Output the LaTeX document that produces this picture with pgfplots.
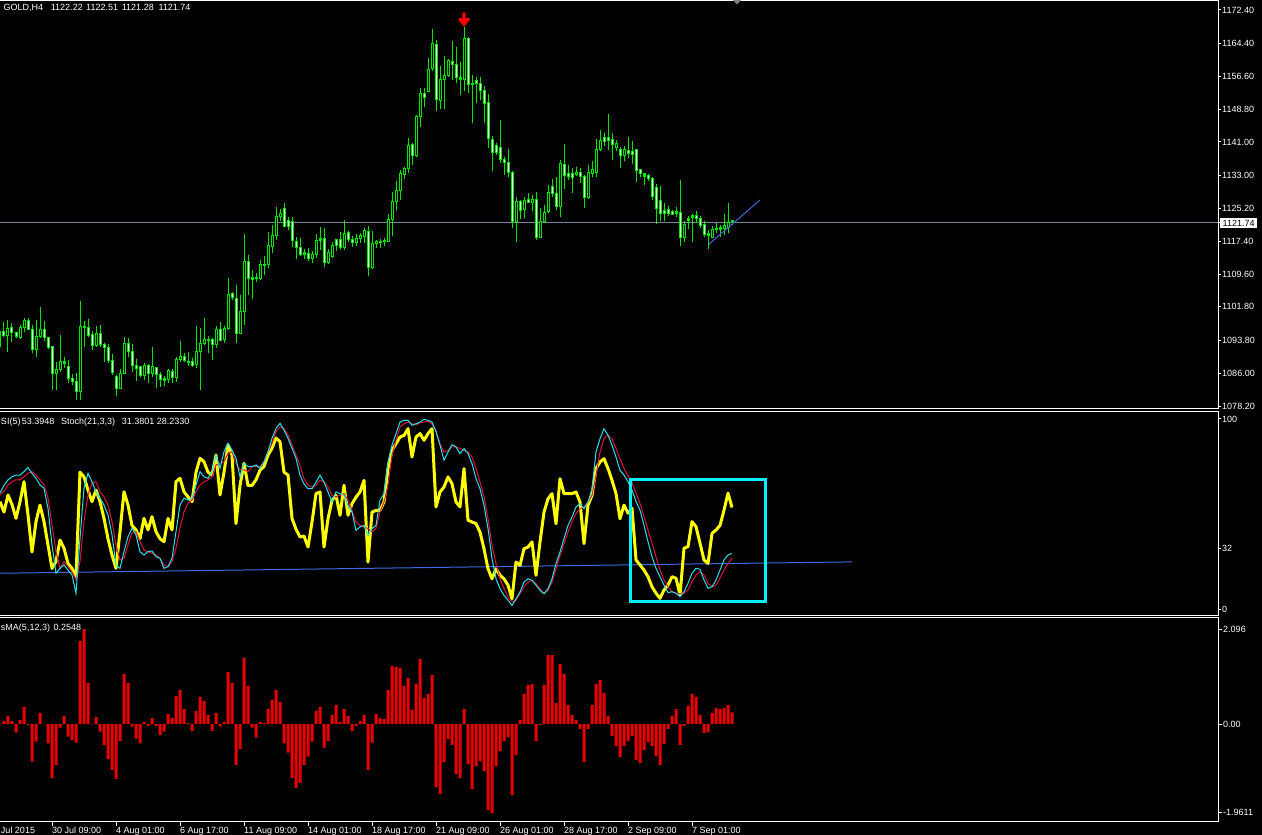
\documentclass[border=0pt]{standalone}
\usepackage{fontspec}
\setmainfont{Liberation Sans}
\usepackage{pgfplots}
\usepackage{pgfplotstable}
\pgfplotsset{compat=1.18}

\definecolor{mtlime}{RGB}{0,230,0}
\definecolor{mtred}{RGB}{235,0,0}
\definecolor{mtyellow}{RGB}{255,255,0}
\definecolor{mtcyan}{RGB}{40,225,235}
\definecolor{mtcrimson}{RGB}{220,20,60}
\definecolor{mtblue}{RGB}{65,105,225}
\definecolor{mtslate}{RGB}{119,136,153}
\definecolor{mtbox}{RGB}{0,240,255}

\pgfdeclareplotmark{fractaldown}{%
  \pgfpathmoveto{\pgfqpoint{-1.7pt}{7pt}}%
  \pgfpathlineto{\pgfqpoint{1.7pt}{7pt}}%
  \pgfpathlineto{\pgfqpoint{1.7pt}{1.5pt}}%
  \pgfpathlineto{\pgfqpoint{5.5pt}{1.5pt}}%
  \pgfpathlineto{\pgfqpoint{5.5pt}{-0.5pt}}%
  \pgfpathlineto{\pgfqpoint{0pt}{-7pt}}%
  \pgfpathlineto{\pgfqpoint{-5.5pt}{-0.5pt}}%
  \pgfpathlineto{\pgfqpoint{-5.5pt}{1.5pt}}%
  \pgfpathlineto{\pgfqpoint{-1.7pt}{1.5pt}}%
  \pgfpathclose
  \pgfusepathqfill
}

\pgfplotstableread{
i o h l c
0 1092.31 1097.07 1091.92 1095.88
1 1095.96 1098.26 1094.69 1095.01
2 1094.93 1098.66 1091.12 1096.68
3 1096.91 1097.86 1093.50 1095.64
4 1095.72 1095.88 1094.30 1094.69
5 1094.45 1097.47 1094.14 1096.91
6 1096.91 1099.05 1095.88 1098.58
7 1098.58 1099.05 1096.28 1096.44
8 1096.44 1097.47 1090.73 1091.68
9 1091.68 1098.66 1089.93 1094.77
10 1094.69 1101.83 1094.30 1096.44
11 1096.44 1098.42 1093.74 1094.45
12 1094.53 1094.69 1091.84 1092.08
13 1092.39 1092.47 1082.01 1085.97
14 1085.97 1088.75 1082.01 1086.92
15 1086.92 1095.09 1086.37 1088.83
16 1088.35 1089.93 1087.16 1088.75
17 1087.64 1089.14 1083.75 1084.70
18 1084.78 1085.81 1083.20 1083.99
19 1084.07 1086.13 1079.63 1081.61
20 1081.61 1103.18 1079.63 1097.15
21 1097.15 1098.50 1092.31 1096.91
22 1096.91 1098.89 1094.69 1095.01
23 1095.25 1096.12 1091.52 1092.55
24 1092.55 1097.31 1092.31 1095.49
25 1095.49 1097.47 1092.31 1092.79
26 1092.87 1093.11 1088.75 1092.16
27 1092.16 1092.95 1088.35 1089.06
28 1089.06 1090.57 1085.57 1086.13
29 1085.18 1085.57 1080.66 1082.32
30 1082.32 1087.00 1082.16 1085.97
31 1085.97 1094.61 1085.81 1093.11
32 1093.11 1094.37 1089.93 1091.12
33 1091.20 1092.95 1086.37 1087.79
34 1087.79 1089.38 1084.23 1087.08
35 1087.64 1087.79 1085.02 1085.50
36 1085.50 1088.35 1084.38 1087.95
37 1087.87 1088.11 1083.75 1085.97
38 1085.97 1092.16 1085.18 1087.64
39 1087.40 1087.56 1082.56 1085.73
40 1085.73 1086.37 1082.80 1084.54
41 1084.70 1085.34 1083.04 1084.38
42 1084.54 1087.08 1083.75 1086.53
43 1086.45 1086.92 1083.59 1085.02
44 1085.02 1089.86 1083.99 1089.30
45 1089.38 1093.66 1088.75 1090.01
46 1090.09 1090.89 1088.75 1088.98
47 1088.83 1090.97 1087.72 1088.51
48 1088.67 1089.62 1087.56 1087.79
49 1088.03 1097.23 1087.16 1091.12
50 1091.12 1096.83 1082.01 1093.11
51 1093.11 1099.13 1092.71 1094.06
52 1094.06 1094.85 1090.73 1093.82
53 1094.06 1094.45 1089.14 1092.87
54 1092.87 1097.23 1092.08 1096.44
55 1096.44 1098.18 1093.74 1093.90
56 1094.06 1097.23 1093.26 1096.75
57 1096.75 1108.73 1096.28 1104.76
58 1105.00 1105.32 1103.41 1104.05
59 1103.81 1106.98 1093.26 1095.49
60 1095.49 1104.60 1095.33 1100.72
61 1100.72 1119.11 1097.39 1112.69
62 1112.69 1114.12 1104.68 1108.49
63 1108.65 1110.55 1103.57 1108.33
64 1108.49 1109.76 1107.70 1108.65
65 1108.57 1112.93 1108.17 1111.90
66 1111.74 1113.88 1109.36 1111.90
67 1111.90 1119.59 1110.95 1116.42
68 1116.18 1121.26 1114.52 1118.80
69 1118.80 1125.54 1117.69 1123.32
70 1123.16 1125.06 1122.21 1124.11
71 1125.22 1126.57 1120.70 1120.86
72 1122.21 1123.16 1120.07 1120.94
73 1122.13 1123.16 1116.10 1117.53
74 1117.45 1118.48 1113.25 1115.86
75 1115.94 1118.09 1113.88 1114.28
76 1114.76 1115.47 1113.25 1114.28
77 1114.52 1115.79 1112.61 1113.25
78 1113.25 1115.15 1112.14 1114.28
79 1114.28 1119.12 1113.33 1117.61
80 1117.53 1120.78 1115.31 1117.93
81 1117.93 1120.54 1111.27 1112.38
82 1112.22 1115.55 1111.98 1114.60
83 1113.72 1117.21 1113.41 1116.42
84 1117.85 1117.95 1115.07 1116.34
85 1117.85 1119.59 1115.55 1115.86
86 1115.86 1122.45 1115.31 1119.27
87 1119.59 1119.83 1117.21 1117.69
88 1117.77 1118.64 1116.10 1117.05
89 1117.05 1119.12 1116.26 1118.01
90 1118.01 1119.27 1116.89 1118.64
91 1118.48 1120.54 1117.05 1119.99
92 1119.75 1121.02 1109.13 1111.11
93 1111.11 1119.83 1110.71 1116.90
94 1116.90 1117.69 1115.86 1117.45
95 1117.21 1117.93 1115.86 1117.45
96 1117.29 1118.09 1116.26 1117.61
97 1117.29 1123.87 1117.13 1122.60
98 1122.60 1129.11 1118.64 1126.89
99 1126.89 1131.64 1124.51 1129.50
100 1129.50 1134.34 1127.28 1133.55
101 1133.31 1135.13 1132.28 1134.58
102 1134.58 1141.95 1133.55 1140.21
103 1140.37 1140.84 1135.53 1137.75
104 1137.75 1147.34 1137.35 1147.03
105 1147.03 1153.77 1144.65 1152.58
106 1152.50 1153.85 1149.40 1151.62
107 1153.05 1160.90 1152.90 1158.29
108 1158.44 1167.80 1157.97 1164.47
109 1164.23 1165.26 1148.45 1150.99
110 1150.83 1159.08 1148.93 1155.91
111 1155.91 1161.46 1148.93 1156.86
112 1156.86 1160.66 1156.38 1160.43
113 1160.19 1165.02 1155.67 1159.47
114 1159.47 1163.52 1154.95 1156.38
115 1156.38 1160.03 1152.10 1155.91
116 1155.91 1168.43 1153.21 1165.50
117 1165.50 1165.98 1152.58 1154.72
118 1154.72 1156.94 1145.44 1154.95
119 1155.51 1156.38 1150.36 1154.95
120 1154.95 1156.38 1150.99 1153.29
121 1153.29 1154.32 1145.44 1150.20
122 1150.44 1152.42 1139.65 1141.87
123 1141.63 1142.43 1134.18 1138.46
124 1140.21 1140.68 1137.91 1138.46
125 1139.73 1146.23 1135.92 1136.88
126 1136.88 1137.51 1133.07 1136.08
127 1136.16 1139.26 1132.59 1133.70
128 1133.86 1134.02 1120.62 1122.05
129 1122.05 1128.00 1117.29 1126.73
130 1126.73 1127.20 1122.60 1124.67
131 1124.90 1127.84 1122.84 1127.20
132 1127.44 1128.79 1126.41 1126.57
133 1126.57 1128.39 1124.59 1127.44
134 1127.44 1129.11 1117.69 1118.24
135 1118.24 1125.22 1118.08 1122.05
136 1122.05 1126.01 1121.81 1124.19
137 1124.43 1130.77 1124.19 1129.03
138 1130.37 1132.20 1128.00 1128.79
139 1128.79 1132.59 1124.83 1125.62
140 1125.62 1136.72 1123.24 1135.77
141 1135.69 1140.52 1129.74 1133.07
142 1133.39 1135.45 1131.96 1132.75
143 1133.39 1134.74 1128.79 1132.59
144 1133.23 1135.13 1132.91 1133.86
145 1133.86 1134.74 1131.17 1132.83
146 1132.91 1133.15 1125.22 1127.84
147 1127.84 1135.53 1127.36 1133.70
148 1133.55 1136.48 1132.59 1134.50
149 1133.70 1141.63 1132.75 1139.26
150 1139.26 1143.85 1138.94 1141.32
151 1142.11 1143.06 1140.13 1141.08
152 1142.11 1147.66 1139.10 1141.32
153 1141.63 1143.06 1136.72 1140.44
154 1139.65 1141.48 1138.94 1140.68
155 1139.10 1139.89 1134.89 1137.83
156 1137.83 1140.05 1136.56 1139.10
157 1139.02 1142.27 1137.11 1138.22
158 1138.78 1141.32 1135.69 1138.14
159 1139.10 1139.41 1131.48 1134.18
160 1134.34 1134.50 1132.75 1133.55
161 1132.91 1133.70 1130.85 1133.39
162 1133.07 1133.39 1131.80 1132.28
163 1132.36 1132.75 1127.20 1128.00
164 1130.22 1131.01 1121.41 1125.14
165 1127.20 1130.53 1122.29 1124.03
166 1124.82 1126.41 1122.29 1124.03
167 1124.98 1125.78 1123.40 1124.03
168 1124.51 1124.82 1123.63 1123.79
169 1124.51 1125.62 1123.24 1124.03
170 1124.27 1131.96 1116.34 1118.24
171 1118.24 1122.29 1117.21 1121.41
172 1122.30 1123.40 1120.23 1122.80
173 1123.00 1123.79 1117.21 1123.48
174 1123.40 1124.51 1121.65 1122.76
175 1122.84 1123.40 1120.46 1121.02
176 1121.26 1122.29 1118.32 1118.88
177 1118.72 1120.07 1115.63 1119.12
178 1118.24 1121.10 1118.24 1120.23
179 1120.15 1121.65 1119.43 1120.54
180 1120.23 1121.26 1118.32 1120.62
181 1120.46 1123.79 1118.88 1121.10
182 1120.70 1126.41 1119.43 1121.89
183 1122.22 1122.51 1121.28 1121.74
}\candles

\pgfplotstableread{
i rsi sm ss
0 56.5 61 60
1 51 65 62
2 60 68 65.3
3 55 69.6 67
4 47.7 70.5 68
5 56.5 70.5 68
6 67 72.3 69.6
7 49.5 74.4 71.4
8 30 71.4 72.3
9 46 68.8 70.5
10 54.7 65.3 68
11 46 63.5 65.3
12 33.7 53 58.3
13 21.4 33.7 44.4
14 25 18.8 30.2
15 36.3 21.4 21.4
16 32 23.2 25
17 24 20.5 22.3
18 21.4 17.9 19.6
19 17 8.3 15.3
20 72 37 25
21 69.6 63.5 46
22 62.6 71.4 60
23 56.5 67 66.2
24 62.6 61.7 67
25 56.5 58.3 61.7
26 47.7 54.7 59
27 37 49.5 54.7
28 28.4 39 46
29 21.4 23.2 33.7
30 40.7 21.4 25.8
31 61.7 30.2 26.7
32 54.7 38 33.7
33 44 42.5 40
34 41.6 39 40.7
35 37 30.2 35.4
36 47.7 28.4 31.1
37 41.6 30.2 30.2
38 48.6 30.5 29.3
39 40.7 27.5 28.4
40 37 26.7 26.7
41 35.4 21.4 23.2
42 47.7 22.3 22.3
43 41.6 26.7 25
44 67 40.7 32
45 68.8 54.7 42.5
46 61.7 58.3 51.2
47 59 57.4 55.6
48 56.5 58.3 57.4
49 72 65.3 61.7
50 79.3 72.3 65.3
51 77.5 69.6 67
52 72 68.8 68
53 70.5 72.3 69.6
54 81 81 75.8
55 60 74 76.7
56 72 82.8 77.5
57 86.3 87.2 81.9
58 81 83.7 82.8
59 45 79.3 76.7
60 65 69.6 73.2
61 76.7 76.7 73.2
62 65 74.9 72.3
63 65 74.9 74.9
64 68 75.8 74.9
65 73 74 74.9
66 75 77.5 77.5
67 81 82.8 82.8
68 84.6 89.8 87.2
69 90 95 93.3
70 88 97.7 95.9
71 72 94.2 95
72 70.5 89.8 91.6
73 47.7 84.6 86.3
74 42 79.3 81
75 37.9 70.4 75.6
76 38.4 65.9 68.6
77 32.6 63.3 65.1
78 45.8 63.3 64.2
79 60.7 66.8 65.1
80 61.6 70.4 67.7
81 32.6 66.8 66.8
82 47.5 61.6 64.2
83 57.2 56.3 59.8
84 59.8 61.6 58.9
85 49.3 60.7 59.8
86 65.1 59.8 60.7
87 49.3 54.6 57.2
88 55.4 51 51.9
89 58.9 41.4 45.8
90 61.6 43.2 44
91 67.7 44 43.2
92 24.7 38.8 42.3
93 51 42.3 40.5
94 51.9 44 42.3
95 51.9 57.2 51
96 56.3 60.7 56.3
97 73.9 77.4 65.1
98 83.5 86.2 80.9
99 87 92.3 88.8
100 90.5 98.4 95.8
101 91.4 99.3 97.5
102 94.9 99.3 98.4
103 80 96.7 97.5
104 90.5 97.5 97
105 92.3 98.4 98
106 88.8 99.8 98.4
107 92.3 99.3 98.8
108 94.9 98.4 97.5
109 53.7 93.2 94
110 61.6 86.2 87
111 64.2 78.3 82.6
112 69.5 82.6 83.5
113 65.9 86.5 85.3
114 56.3 85.3 85.3
115 53.7 81.8 84.4
116 73.9 84.4 83.5
117 46.7 81.8 82.6
118 45.8 76.5 80
119 44.9 68.6 73.9
120 40.5 63.3 66.8
121 31.7 54.6 58.9
122 21.2 42.3 47.5
123 15.9 26.5 33.5
124 21.2 15.9 23.9
125 17.7 10.7 15.9
126 15.9 7.2 10.7
127 12.5 4.6 6.3
128 5.4 1.9 3.7
129 24.7 5.4 4.6
130 23 8.9 8.1
131 31.7 14.2 11.6
132 32.6 15.9 14.2
133 35.3 15.1 15.1
134 17.7 12.5 13.3
135 35.3 9.8 10.7
136 51 8.1 8.1
137 58 10.7 9.8
138 60.7 15.9 14.2
139 44.9 23.9 21.2
140 68.6 30 28.3
141 60.7 37 34.4
142 60.7 44 40.5
143 60.7 48.4 45.8
144 61.6 53.7 50.2
145 56.3 55.4 52.8
146 34.4 52.8 53.7
147 54.6 56.3 56.3
148 59.8 63.3 59.8
149 73.9 82.6 70.4
150 77.4 89.6 82.6
151 79.1 94.9 89.6
152 73.9 91.4 91.4
153 67.7 86.2 89.6
154 60.7 80 84.4
155 47.5 73 79
156 54.7 70.5 74
157 50.4 67 70
158 53 62.6 66.5
159 25.8 56.5 61
160 23.2 52 55.6
161 20.5 44 48.6
162 17 35.4 41.6
163 11.7 27.5 34.6
164 8.3 21.4 27.5
165 5.6 17 20.5
166 10 12.6 15.3
167 12.6 8.6 11.7
168 17 9.1 9.1
169 16.2 8.3 8.3
170 7.4 6.5 8
171 32 9.1 8.3
172 32.8 13.5 10
173 46 18.8 14.4
174 43.3 21.4 17.9
175 34.6 20.9 19.6
176 25.8 15.3 17.9
177 24 10.9 13.5
178 39.8 11.7 11.7
179 41.6 15.3 12.6
180 44 20.5 16.2
181 52 25.8 20.5
182 61 28.4 24
183 53.4 29.3 26.7
}\osc

\pgfplotstableread{
i v
0 0.01
1 0.07
2 0.18
3 0.07
4 -0.19
5 0.09
6 0.38
7 -0.02
8 -0.83
9 -0.39
10 0.24
11 -0.01
12 -0.43
13 -1.19
14 -0.90
15 -0.08
16 0.18
17 -0.28
18 -0.35
19 -0.41
20 1.83
21 2.096
22 0.91
23 -0.01
24 0.15
25 -0.17
26 -0.46
27 -0.77
28 -1.01
29 -1.21
30 -0.37
31 1.10
32 0.91
33 -0.06
34 -0.32
35 -0.43
36 0.04
37 -0.04
38 0.13
39 -0.04
40 -0.24
41 -0.17
42 0.22
43 0.13
44 0.62
45 0.75
46 0.33
47 0.02
48 -0.15
49 0.29
50 0.60
51 0.51
52 0.20
53 -0.15
54 0.24
55 -0.06
56 0.04
57 1.15
58 0.91
59 -0.90
60 -0.55
61 1.46
62 0.84
63 -0.08
64 -0.30
65 0.04
66 0.02
67 0.33
68 0.53
69 0.75
70 0.49
71 -0.43
72 -0.63
73 -1.19
74 -1.41
75 -1.30
76 -0.90
77 -0.72
78 -0.39
79 0.29
80 0.38
81 -0.52
82 -0.37
83 0.20
84 0.42
85 0.04
86 0.33
87 0.18
88 -0.15
89 -0.04
90 0.07
91 0.20
92 -1.01
93 -0.41
94 0.22
95 0.13
96 0.11
97 0.75
98 1.28
99 1.26
100 1.24
101 0.84
102 1.02
103 0.31
104 0.88
105 1.44
106 0.57
107 0.66
108 1.08
109 -1.39
110 -1.55
111 -0.84
112 -0.33
113 -0.46
114 -1.10
115 -1.19
116 0.33
117 -0.88
118 -1.44
119 -0.93
120 -0.82
121 -1.04
122 -1.90
123 -1.9611
124 -0.93
125 -0.60
126 -0.38
127 -0.29
128 -1.57
129 -0.68
130 0.09
131 0.66
132 0.86
133 0.88
134 -0.38
135 -0.02
136 0.86
137 1.52
138 1.52
139 0.46
140 1.32
141 1.10
142 0.42
143 0.20
144 0.09
145 -0.11
146 -0.84
147 -0.11
148 0.42
149 0.88
150 0.97
151 0.68
152 0.18
153 -0.26
154 -0.49
155 -0.73
156 -0.49
157 -0.38
158 -0.26
159 -0.79
160 -0.86
161 -0.57
162 -0.40
163 -0.49
164 -0.71
165 -0.91
166 -0.44
167 -0.11
168 0.18
169 0.33
170 -0.46
171 -0.04
172 0.40
173 0.66
174 0.60
175 0.20
176 -0.20
177 -0.18
178 0.24
179 0.35
180 0.33
181 0.35
182 0.42
183 0.2548
}\osma

\pgfplotsset{
  mtpanel/.style={
    scale only axis, anchor=south west, width=1220pt,
    xmin=-0.5, xmax=304.5,
    axis line style={white, line width=1pt},
    tick style={white, line width=1pt},
    ytick pos=right, yticklabel pos=right,
    tick align=outside, major tick length=3pt,
    xtick=\empty,
    yticklabel style={font=\fontsize{9}{10}\selectfont, text=white, anchor=west, inner sep=0pt, xshift=1pt},
    /pgf/number format/assume math mode=true,
  },
  candlebar/.style={draw=none, mark=none,
    error bars/y dir=plus, error bars/y explicit, error bars/error mark=none},
}

\begin{document}
\begin{tikzpicture}[x=1pt,y=1pt]
\useasboundingbox (0,0) rectangle (1262,835);
\fill[black] (0,0) rectangle (1262,835);

% ---------------- price panel
\begin{axis}[mtpanel, at={(-2pt,426pt)}, height=408pt,
  ymin=1077.49, ymax=1174.54,
  ytick={1078.2,1086,1093.8,1101.8,1109.6,1117.4,1125.2,1133,1141,1148.8,1156.6,1164.4,1172.4},
  yticklabels={1078.20,1086.00,1093.80,1101.80,1109.60,1117.40,1125.20,1133.00,1141.00,1148.80,1156.60,1164.40,1172.40},
  extra y ticks={1121.74},
  extra y tick labels={1121.74},
  extra y tick style={yticklabel style={fill=white, text=black, inner xsep=2.5pt, inner ysep=2pt, xshift=-2pt}},
]
\addplot[mtslate, line width=1pt] coordinates {(-0.5,1121.74) (304.5,1121.74)};
% wicks
\addplot[candlebar, error bars/error bar style={draw=mtlime, line width=1pt}]
  table[x=i, y=l, y error plus expr=\thisrow{h}-\thisrow{l}] {\candles};
% bodies
\addplot[candlebar, error bars/error bar style={draw=mtlime, line width=3pt, shorten <=-0.5pt, shorten >=-0.5pt}]
  table[x=i, y expr={min(\thisrow{o},\thisrow{c})}, y error plus expr={abs(\thisrow{c}-\thisrow{o})}] {\candles};
% bear bodies (white inside)
\addplot[candlebar, x filter/.expression={(\thisrow{o}-\thisrow{c}>0.5) ? x : nan},
  error bars/error bar style={draw=white, line width=1pt, shorten <=0.5pt, shorten >=0.5pt}]
  table[x=i, y expr={min(\thisrow{o},\thisrow{c})}, y error plus expr={abs(\thisrow{c}-\thisrow{o})}] {\candles};
% bull bodies (black inside)
\addplot[candlebar, x filter/.expression={(\thisrow{c}-\thisrow{o}>0.5) ? x : nan},
  error bars/error bar style={draw=black, line width=1pt, shorten <=0.5pt, shorten >=0.5pt}]
  table[x=i, y expr={min(\thisrow{o},\thisrow{c})}, y error plus expr={abs(\thisrow{c}-\thisrow{o})}] {\candles};
\addplot[mtblue, line width=1pt] coordinates {(177.2,1116.67) (190,1127.2)};
\addplot[only marks, mark=fractaldown, color=red] coordinates {(116,1170.09)};
\end{axis}

% ---------------- RSI / Stochastic panel
\begin{axis}[mtpanel, at={(-2pt,219pt)}, height=204pt,
  ymin=-3.68, ymax=103.68,
  ytick={0,32,100}, yticklabels={0,32,100},
]
\addplot[mtblue, line width=1pt] coordinates {(-0.5,18.8) (213,24.8)};
\addplot[mtyellow, line width=3pt, line join=round] table[x=i, y=rsi] {\osc};
\addplot[mtcrimson, line width=1pt] table[x=i, y=ss] {\osc};
\addplot[mtcyan, line width=1pt] table[x=i, y=sm] {\osc};
\draw[mtbox, line width=3pt] (axis cs:157.7,68.05) rectangle (axis cs:191.4,4.05);
\end{axis}

% ---------------- OsMA panel
\begin{axis}[mtpanel, at={(-2pt,13pt)}, height=204pt,
  ymin=-2.163, ymax=2.340,
  ytick={-1.9611,0,2.096}, yticklabels={-1.9611,0.00,2.096},
  xtick={13,29,45,61,77,93,109,125,141,157,173},
  xticklabels={30 Jul 09:00,4 Aug 01:00,6 Aug 17:00,11 Aug 09:00,14 Aug 01:00,18 Aug 17:00,21 Aug 09:00,26 Aug 01:00,28 Aug 17:00,2 Sep 09:00,7 Sep 01:00},
  xtick pos=left, major tick length=4pt,
  xticklabel style={font=\fontsize{9}{10}\selectfont, text=white, anchor=base west, inner sep=0pt, yshift=-8pt},
]
\addplot[ybar, bar width=3pt, fill=mtred, draw=none] table[x=i, y=v] {\osma};
\end{axis}

% ---------------- texts
\begin{scope}[every node/.style={text=white, inner sep=0pt, font=\fontsize{9}{10}\selectfont}]
\node[anchor=base west] at (3.3,824.3) {GOLD,H4};
\node[anchor=base west] at (50.7,824.3) {1122.22};
\node[anchor=base west] at (86,824.3) {1122.51};
\node[anchor=base west] at (121.7,824.3) {1121.28};
\node[anchor=base west] at (158.3,824.3) {1121.74};
\node[anchor=base west] at (0.8,410.7) {SI(5)};
\node[anchor=base west] at (21.7,410.7) {53.3948};
\node[anchor=base west] at (61,410.7) {Stoch(21,3,3)};
\node[anchor=base west] at (121.7,410.7) {31.3801};
\node[anchor=base west] at (156.7,410.7) {28.2330};
\node[anchor=base west] at (0.8,204.3) {sMA(5,12,3)};
\node[anchor=base west] at (53.3,204.3) {0.2548};
\node[anchor=base west] at (0.8,1.2) {Jul 2015};
\end{scope}
\fill[gray] (733,835) -- (741,835) -- (737,830.5) -- cycle;
\end{tikzpicture}
\end{document}
